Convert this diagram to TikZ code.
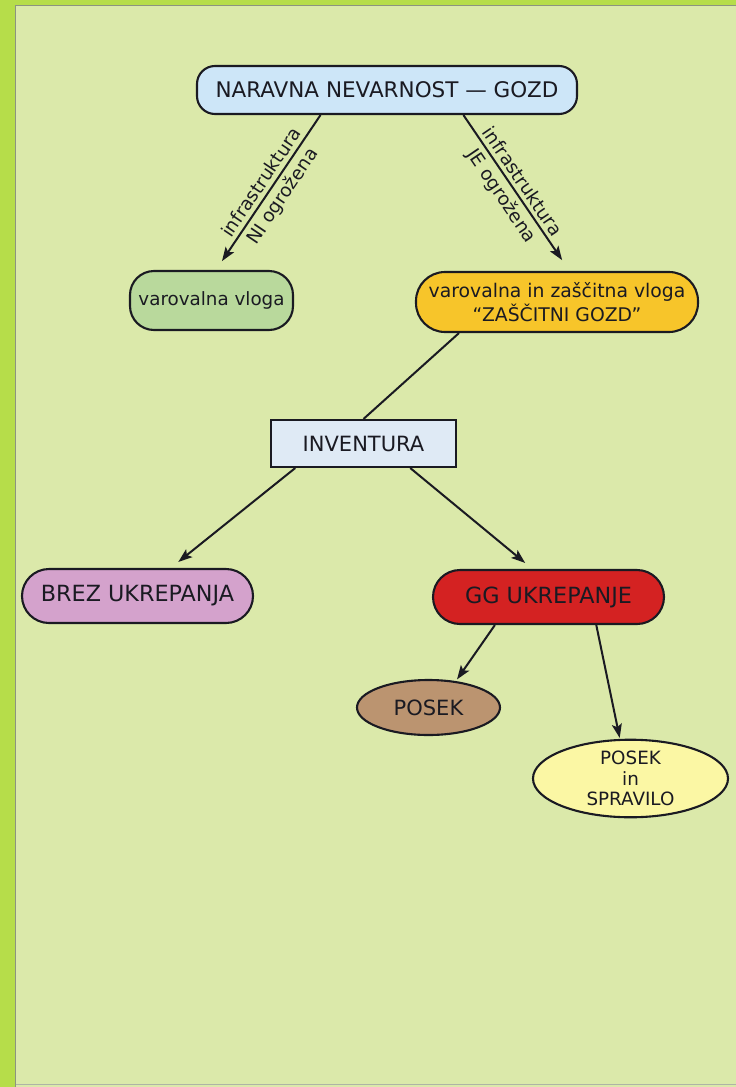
\documentclass[tikz,border=0pt]{standalone}
\usepackage{fontspec}
\setmainfont{DejaVu Sans}
\usetikzlibrary{arrows.meta,shapes.geometric,calc}
\definecolor{outergreen}{HTML}{B6DD4A}
\definecolor{innergreen}{HTML}{DBE9AA}
\definecolor{framegray}{HTML}{8C9480}
\definecolor{topblue}{HTML}{CDE6F8}
\definecolor{leafgreen}{HTML}{B9D99C}
\definecolor{gold}{HTML}{F7C52A}
\definecolor{invblue}{HTML}{DFEAF5}
\definecolor{lilac}{HTML}{D4A2CC}
\definecolor{ggred}{HTML}{D42222}
\definecolor{brown}{HTML}{BB9470}
\definecolor{paleyellow}{HTML}{FBF7A4}
\definecolor{ink}{HTML}{1A1A22}
\tikzset{
  box/.style={draw=ink, line width=2.1pt, text=ink, inner sep=0pt, align=center},
  conn/.style={draw=ink, line width=2pt},
  arr/.style={conn, -{Stealth[length=14pt,width=10pt,inset=3pt]}},
  lab/.style={text=ink, font=\fontsize{18.5}{22}\selectfont, sloped, midway, inner sep=0pt}
}
\begin{document}
\begin{tikzpicture}[x=1pt,y=-1pt]
\useasboundingbox (0,0) rectangle (736,1087);
\fill[outergreen] (0,0) rectangle (736,1087);
\fill[innergreen] (15,5) rectangle (736,1087);
\draw[framegray, line width=1.5pt] (15.5,1087) -- (15.5,5.5) -- (736,5.5);
\draw[framegray!70, line width=1pt] (15.5,1084.5) -- (736,1084.5);

\node[box, fill=topblue, rounded corners=18pt, minimum width=380pt, minimum height=48pt,
  font=\fontsize{21.5}{25}\selectfont] (top) at (387,90) {NARAVNA NEVARNOST — GOZD};
\node[box, fill=leafgreen, rounded corners=24pt, minimum width=163pt, minimum height=59pt,
  font=\fontsize{18.3}{22}\selectfont] (vv) at (211.5,300.5) {varovalna vloga};
\node[box, fill=gold, rounded corners=29pt, minimum width=282pt, minimum height=60pt,
  font=\fontsize{18.8}{24}\selectfont] (zg) at (557,302) {varovalna in zaščitna vloga\\“ZAŠČITNI GOZD”};
\node[box, fill=invblue, minimum width=185pt, minimum height=47pt,
  font=\fontsize{21}{24}\selectfont] (inv) at (363.5,443.5) {INVENTURA};
\node[box, fill=lilac, rounded corners=27pt, minimum width=231pt, minimum height=54pt,
  font=\fontsize{22.3}{25}\selectfont] (brez) at (137.5,596) {BREZ UKREPANJA};
\node[box, fill=ggred, rounded corners=27pt, minimum width=231pt, minimum height=54pt,
  font=\fontsize{22.3}{25}\selectfont] (gg) at (548.5,597) {GG UKREPANJE};
\node[box, ellipse, fill=brown, minimum width=143pt, minimum height=55pt,
  font=\fontsize{21}{24}\selectfont] (posek) at (428.5,707.5) {POSEK};
\node[box, ellipse, fill=paleyellow, minimum width=195pt, minimum height=77pt,
  font=\fontsize{18.3}{20.5}\selectfont] (spr) at (630.5,778.5) {POSEK\\in\\SPRAVILO};

\draw[arr, shorten >=1pt] ($(top.south west)!0.326!(top.south east)$) --
  node[lab, above=4pt] (l1a) {infrastruktura}
  node[lab, below=4pt] (l1b) {NI ogrožena}
  ($(vv.north west)!0.56!(vv.north east)+(0,-8)$);
\draw[arr, shorten >=1pt] ($(top.south west)!0.70!(top.south east)$) --
  node[lab, above=4pt] (l2a) {infrastruktura}
  node[lab, below=4pt] (l2b) {JE ogrožena}
  ($(zg.north west)!0.52!(zg.north east)+(0,-10)$);
\draw[conn] ($(zg.south west)!0.155!(zg.south east)$) -- (inv.north);
\draw[arr] ($(inv.south west)!0.135!(inv.south east)$) --
  ($(brez.north west)!0.675!(brez.north east)+(0,-6)$);
\draw[arr] ($(inv.south west)!0.75!(inv.south east)$) --
  ($(gg.north west)!0.40!(gg.north east)+(0,-6)$);
\draw[arr, shorten >=2pt] ($(gg.south west)!0.27!(gg.south east)$) -- (posek.44);
\draw[arr, shorten >=1pt] ($(gg.south west)!0.705!(gg.south east)$) -- (spr.105);
\end{tikzpicture}
\end{document}
